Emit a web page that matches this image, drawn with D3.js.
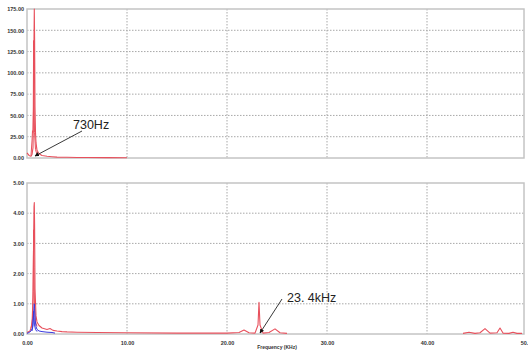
<!DOCTYPE html>
<html>
<head>
<meta charset="utf-8">
<script src="https://cdn.jsdelivr.net/npm/d3@7"></script>
<style>
  html, body { margin: 0; padding: 0; background: #fff; }
  svg { display: block; }
  text { font-family: Arial, "Liberation Sans", sans-serif; }
</style>
</head>
<body>
<svg id="chart" width="528" height="350"></svg>
<script>
// Upper spectrum (0–10 kHz), amplitude
const topFreq = [0, 0.2, 0.4, 0.5, 0.6, 0.66, 0.7, 0.73, 0.76, 0.8, 0.85, 0.9, 1.0, 1.2, 1.5, 2.0, 2.5, 3.0, 4.0, 5.0, 6.0, 8.0, 10.0];
const topAmpA = [6, 3, 2, 4, 12, 60, 140, 175, 140, 60, 30, 18, 9, 5, 3, 2, 1.5, 1, 0.8, 0.6, 0.5, 0.4, 0.3];
const topFreqB = [0.4, 0.5, 0.55, 0.6, 0.63, 0.66, 0.7, 0.75, 0.85, 1.0];
const topAmpB = [3, 20, 32, 30, 60, 138, 80, 30, 10, 4];
const topTicks = [0, 25, 50, 75, 100, 125, 150, 175];

// Lower spectrum (0–50 kHz), amplitude
const botFreqA = [0, 0.3, 0.5, 0.6, 0.66, 0.7, 0.73, 0.76, 0.8, 0.9, 1.0, 1.2, 1.5, 2.0, 2.3, 2.6, 3.0, 3.5, 4.0, 5.0, 7.0, 10.0, 15.0, 20.0, 21.2, 21.7, 22.2, 22.8, 23.1, 23.2, 23.3, 23.6, 24.2, 24.8, 25.3, 26.0, null,
                  43.6, 44.2, 44.8, 45.3, 45.8, 46.3, 47.0, 47.3, 47.6, 48.2, 48.6, 49.0, 49.5];
const botRedA = [0.05, 0.1, 0.3, 1.2, 3.0, 4.2, 4.35, 3.6, 1.5, 0.6, 0.4, 0.28, 0.2, 0.15, 0.18, 0.12, 0.1, 0.08, 0.07, 0.06, 0.05, 0.04, 0.03, 0.03, 0.05, 0.13, 0.04, 0.03, 0.3, 1.05, 0.3, 0.03, 0.05, 0.17, 0.04, 0.02, null,
                 0.02, 0.06, 0.02, 0.04, 0.18, 0.03, 0.04, 0.2, 0.03, 0.02, 0.06, 0.02, 0.02];
const botFreqB = [0.4, 0.55, 0.62, 0.66, 0.7, 0.75, 0.85, 1.0];
const botRedB = [0.2, 0.5, 1.4, 3.45, 2.2, 0.9, 0.4, 0.25];
const blueFreqA = [0, 0.2, 0.4, 0.55, 0.65, 0.7, 0.73, 0.76, 0.82, 0.9, 1.0, 1.2, 1.5, 2.0, 2.5, 2.8];
const blueAmpA = [0.02, 0.05, 0.1, 0.2, 0.6, 0.9, 1.0, 0.85, 0.45, 0.25, 0.15, 0.1, 0.08, 0.06, 0.05, 0.03];
const blueFreqB = [0.5, 0.6, 0.66, 0.7, 0.75, 0.85, 1.0];
const blueAmpB = [0.1, 0.3, 0.75, 0.55, 0.3, 0.15, 0.08];
const botTicks = [0, 1, 2, 3, 4, 5];
const xTicks = [0, 10, 20, 30, 40, 50];

const svg = d3.select("#chart");
const W = 528;
const left = 27, rightFrame = 524;
const x = d3.scaleLinear().domain([0, 50]).range([27, 527]);
const fmt = d3.format(".2f");

const RED = "#e8505c", BLUE = "#3a3ae0", GRID = "#a8a8a8", FRAME = "#c4c4c4";

function panel(y, ticks, showX) {
  const g = svg.append("g");
  const [y0, y1] = y.range();
  // horizontal dotted grid
  g.selectAll("line.hg").data(ticks.filter(t => t !== ticks[0] && t !== ticks[ticks.length - 1]))
    .join("line").attr("class", "hg")
    .attr("x1", left).attr("x2", rightFrame)
    .attr("y1", d => y(d)).attr("y2", d => y(d))
    .attr("stroke", GRID).attr("stroke-width", 1).attr("stroke-dasharray", "1.5,1.5");
  // vertical dotted grid
  g.selectAll("line.vg").data(xTicks.filter(t => t > 0 && t < 50))
    .join("line").attr("class", "vg")
    .attr("x1", d => x(d)).attr("x2", d => x(d))
    .attr("y1", y1).attr("y2", y0)
    .attr("stroke", GRID).attr("stroke-width", 1).attr("stroke-dasharray", "1.5,1.5");
  // frame
  g.append("rect").attr("x", left).attr("y", y1)
    .attr("width", rightFrame - left).attr("height", y0 - y1)
    .attr("fill", "none").attr("stroke", FRAME).attr("stroke-width", 1.5);
  // y axis labels
  const ya = d3.axisLeft(y).tickValues(ticks).tickFormat(fmt).tickSize(0).tickPadding(3);
  const ag = g.append("g").attr("transform", `translate(${left},0)`).call(ya);
  ag.select(".domain").remove();
  ag.selectAll("text").attr("font-size", 5.5).attr("fill", "#333").attr("font-weight", "bold")
    .attr("font-family", "Arial, Liberation Sans, sans-serif");
  if (showX) {
    const xa = d3.axisBottom(x).tickValues(xTicks).tickFormat(fmt).tickSize(0).tickPadding(7);
    const xg = g.append("g").attr("transform", `translate(0,${y0})`).call(xa);
    xg.select(".domain").remove();
    xg.selectAll("text").attr("font-size", 5.5).attr("fill", "#333").attr("font-weight", "bold")
      .attr("font-family", "Arial, Liberation Sans, sans-serif");
  }
  return g;
}

function trace(g, y, fx, fy, color, width) {
  const pts = fx.map((f, i) => [f, fy[i]]);
  const line = d3.line()
    .defined(d => d[0] !== null && d[1] !== null)
    .x(d => x(d[0])).y(d => y(d[1]));
  g.append("path").datum(pts).attr("d", line)
    .attr("fill", "none").attr("stroke", color).attr("stroke-width", width)
    .attr("stroke-linejoin", "round");
}

function arrow(x1, y1, x2, y2) {
  svg.append("line").attr("x1", x1).attr("y1", y1).attr("x2", x2).attr("y2", y2)
    .attr("stroke", "#222").attr("stroke-width", 0.9).attr("marker-end", "url(#ah)");
}

svg.append("defs").append("marker").attr("id", "ah")
  .attr("viewBox", "0 0 10 10").attr("refX", 9).attr("refY", 5)
  .attr("markerWidth", 5).attr("markerHeight", 5).attr("orient", "auto")
  .append("path").attr("d", "M0,0 L10,5 L0,10 z").attr("fill", "#111");

// Upper panel
const yTop = d3.scaleLinear().domain([0, 175]).range([158, 9]);
const gTop = panel(yTop, topTicks, false);
trace(gTop, yTop, topFreqB, topAmpB, RED, 1);
trace(gTop, yTop, topFreq, topAmpA, RED, 1.1);

svg.append("text").attr("x", 73).attr("y", 129).attr("font-size", 12.5).attr("fill", "#222").text("730Hz");
arrow(82, 131, 35, 156);

// Lower panel
const yBot = d3.scaleLinear().domain([0, 5]).range([334, 183]);
const gBot = panel(yBot, botTicks, true);
trace(gBot, yBot, botFreqB, botRedB, RED, 1);
trace(gBot, yBot, botFreqA, botRedA, RED, 1.1);
trace(gBot, yBot, blueFreqB, blueAmpB, BLUE, 1);
trace(gBot, yBot, blueFreqA, blueAmpA, BLUE, 1);

svg.append("text").attr("x", 287).attr("y", 302).attr("font-size", 12.5).attr("fill", "#222").text("23. 4kHz");
arrow(282, 299, 260, 333);

svg.append("text").attr("x", 277).attr("y", 349).attr("text-anchor", "middle")
  .attr("font-size", 5).attr("font-weight", "bold").attr("fill", "#333").text("Frequency (KHz)");
</script>
</body>
</html>
